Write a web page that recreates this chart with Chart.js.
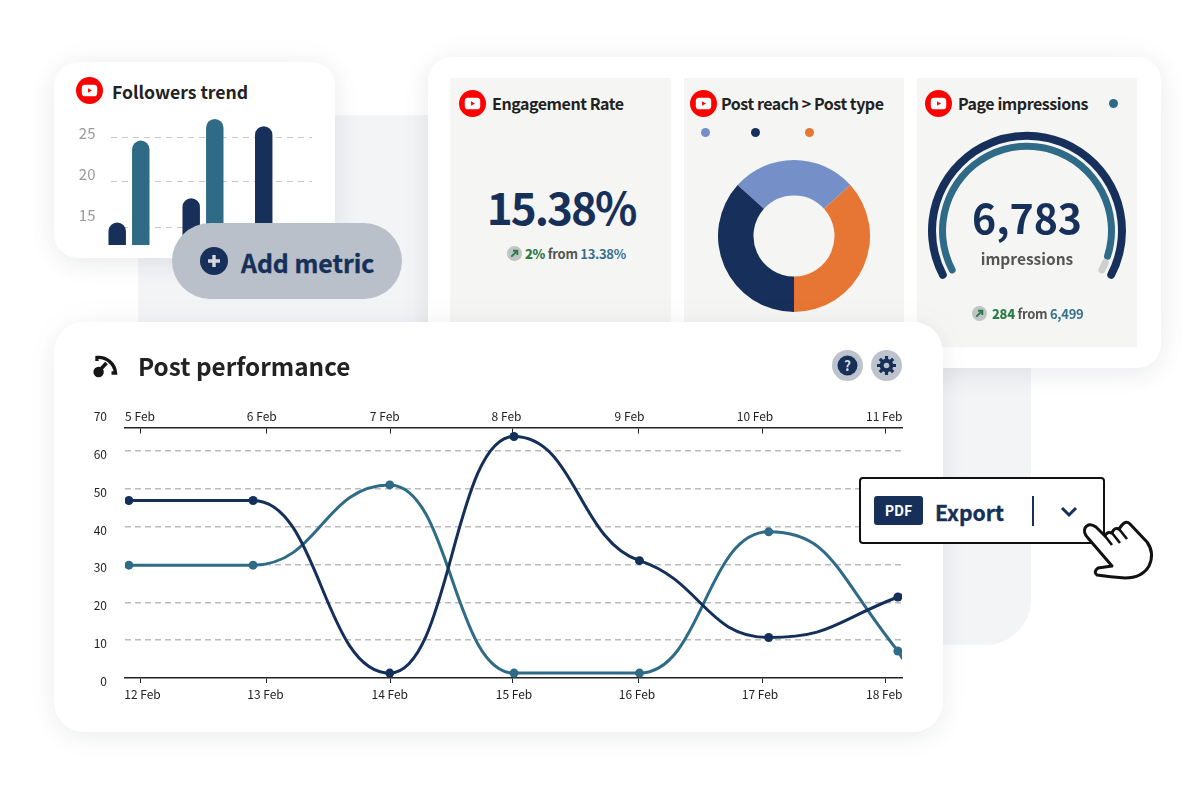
<!DOCTYPE html>
<html>
<head>
<meta charset="utf-8">
<title>Post performance</title>
<script src="https://cdn.jsdelivr.net/npm/chart.js@4"></script>
<style>
  html, body { margin: 0; background: #fff; }
  #page { position: relative; width: 1201px; height: 801px; overflow: hidden; font-family: "Noto Sans CJK SC", "Noto Sans", sans-serif; color: #222; }
  #page > *, .card > * { position: absolute; }
  canvas { display: block; }
  .card { background: #fff; box-shadow: 0 6px 26px rgba(30, 40, 70, .07), 0 0 40px rgba(30, 40, 70, .03); }
  .tile { background: #f5f5f3; }
  .t { white-space: nowrap; line-height: 1; }
  .title { font-size: 16px; letter-spacing: -.45px; font-weight: 700; color: #222; }
  .center { text-align: center; transform: translateX(-50%); }
  .navy { color: #16305a; }
  .heavy { -webkit-text-stroke: .35px currentColor; }
  .dot { width: 9px; height: 9px; border-radius: 50%; }
  .delta { font-size: 13px; letter-spacing: -.3px; font-weight: 700; color: #555; }
  .delta b { color: #2e7a49; }
  .delta i { color: #36708e; font-style: normal; }
  .round { width: 31px; height: 31px; border-radius: 50%; background: #bcc3cd; }
</style>
</head>
<body>
<svg width="0" height="0" style="position:absolute">
  <symbol id="yt" viewBox="0 0 28 28">
    <circle cx="14" cy="14" r="14" fill="#fe0000"/>
    <rect x="6" y="8" width="16" height="12" rx="3.5" fill="#fff"/>
    <path d="M12.5 11.7 L16.5 14 L12.5 16.3 Z" fill="#fe0000"/>
  </symbol>
  <symbol id="up" viewBox="0 0 16 16">
    <circle cx="8" cy="8" r="8" fill="#bfc4c4"/>
    <path d="M4.6 11.4 L10.6 5.4 M6.4 5 H11 V9.6" fill="none" stroke="#2e7a49" stroke-width="2"/>
  </symbol>
</svg>
<div id="page">
  <!-- grey panel behind the cards -->
  <div style="left:138px;top:115px;width:893px;height:530px;background:#f3f4f6;border-bottom-right-radius:46px"></div>

  <!-- right card with the three tiles -->
  <div class="card" style="left:428px;top:57px;width:733px;height:311px;border-radius:24px">
    <div class="tile" style="left:22px;top:21px;width:221px;height:260px"></div>
    <div class="tile" style="left:256px;top:21px;width:220px;height:260px"></div>
    <div class="tile" style="left:489px;top:21px;width:220px;height:269px"></div>
  </div>
  <svg style="left:459px;top:90px" width="27" height="27"><use href="#yt"/></svg>
  <div class="t title" style="left:492px;top:95px">Engagement Rate</div>
  <div class="t center navy" style="left:561px;top:184px;font-size:44px;letter-spacing:-2px;font-weight:700">15.38%</div>
  <svg style="left:507px;top:246px" width="15" height="15"><use href="#up"/></svg>
  <div class="t delta" style="left:525px;top:247px"><b>2%</b> from <i>13.38%</i></div>

  <svg style="left:690px;top:90px" width="27" height="27"><use href="#yt"/></svg>
  <div class="t title" style="left:721px;top:95px">Post reach &gt; Post type</div>
  <div class="dot" style="left:701px;top:128px;background:#7590c9"></div>
  <div class="dot" style="left:751px;top:128px;background:#172f5b"></div>
  <div class="dot" style="left:805px;top:128px;background:#e77534"></div>
  <canvas id="reachChart" width="160" height="160" style="left:714px;top:156px"></canvas>

  <svg style="left:925px;top:90px" width="27" height="27"><use href="#yt"/></svg>
  <div class="t title" style="left:958px;top:95px">Page impressions</div>
  <div class="dot" style="left:1109px;top:99px;background:#2f6b87"></div>
  <canvas id="impressionChart" width="204" height="156" style="left:925px;top:128px"></canvas>
  <div class="t center navy" style="left:1027px;top:196px;font-size:41px;font-weight:700">6,783</div>
  <div class="t center" style="left:1027px;top:251px;font-size:15.5px;font-weight:700;color:#555">impressions</div>
  <svg style="left:972px;top:306px" width="15" height="15"><use href="#up"/></svg>
  <div class="t delta" style="left:992px;top:307px"><b>284</b> from <i>6,499</i></div>

  <!-- followers card -->
  <div class="card" style="left:54px;top:62px;width:281px;height:196px;border-radius:24px"></div>
  <svg style="left:76px;top:77px" width="27" height="27"><use href="#yt"/></svg>
  <div class="t title" style="left:112px;top:83px;font-size:17.6px;letter-spacing:0">Followers trend</div>
  <canvas id="followersChart" width="255" height="140" style="left:70px;top:108px"></canvas>

  <!-- add metric pill -->
  <div style="left:172px;top:223px;width:230px;height:76px;border-radius:38px;background:#bac0c9"></div>
  <svg style="left:200px;top:247px" width="28" height="28" viewBox="0 0 28 28">
    <circle cx="14" cy="14" r="14" fill="#16305a"/>
    <path d="M14 8 V20 M8 14 H20" stroke="#d5d9df" stroke-width="3.4"/>
  </svg>
  <div class="t navy heavy" style="left:241px;top:250px;font-size:24.8px;font-weight:700">Add metric</div>

  <!-- post performance card -->
  <div class="card" style="left:54px;top:322px;width:889px;height:410px;border-radius:30px"></div>
  <svg style="left:93px;top:353px" width="26" height="26" viewBox="0 0 26 26" fill="none" stroke="#161616">
    <path d="M4 8 V4.5 A17 17 0 0 1 22.5 20 H18.5" stroke-width="3.4"/>
    <path d="M5 19 L13.5 10" stroke-width="3.6"/>
    <circle cx="5.6" cy="19" r="5.2" fill="#161616" stroke="none"/>
  </svg>
  <div class="t" style="left:138px;top:354px;font-size:24.3px;font-weight:700">Post performance</div>

  <div class="round" style="left:832px;top:350px"></div>
  <svg style="left:837px;top:355px" width="21" height="21" viewBox="0 0 21 21">
    <circle cx="10.5" cy="10.5" r="10" fill="#16305a"/>
    <text x="10.5" y="15.5" font-size="14" font-weight="700" fill="#d5d9df" text-anchor="middle">?</text>
  </svg>
  <div class="round" style="left:871px;top:350px"></div>
  <svg style="left:876px;top:355px" width="21" height="21" viewBox="0 0 21 21">
    <circle cx="10.5" cy="10.5" r="4.8" fill="none" stroke="#16305a" stroke-width="4"/>
    <path d="M10.5 1 V20 M1 10.5 H20 M3.8 3.8 L17.2 17.2 M17.2 3.8 L3.8 17.2" stroke="#16305a" stroke-width="3.2" stroke-dasharray="4 11 4"/>
  </svg>

  <canvas id="performanceChart" width="820" height="300" style="left:88px;top:402px"></canvas>

  <!-- export box and pointer -->
  <div style="left:859px;top:477px;width:242px;height:63px;border:2px solid #111;border-radius:4px;background:#fff"></div>
  <div class="t" style="left:874px;top:496px;width:49px;height:29px;border-radius:3px;background:#16305a;color:#fff;font-size:14px;font-weight:700;line-height:29px;text-align:center">PDF</div>
  <div class="t navy heavy" style="left:935px;top:501px;font-size:21.2px;font-weight:700">Export</div>
  <div style="left:1032px;top:496px;width:2px;height:30px;background:#16305a"></div>
  <svg style="left:1060px;top:506px" width="18" height="12"><path d="M2 2 L9 9 L16 2" fill="none" stroke="#16305a" stroke-width="3"/></svg>
  <svg style="left:0;top:0" width="1201" height="801" fill="none">
    <path d="M1112 566 L1098 568 Q1093 572 1097 575 Q1110 577 1125 578 Q1142 578 1149 566 Q1155 553 1147 542 L1130 524 Q1126 520 1122 525 L1119 529 Q1114 527 1112 533 Q1107 531 1105 536 L1096 527 Q1089 522 1085 528 Q1083 533 1088 538 Z" fill="#fff" stroke="#111" stroke-width="3" stroke-linejoin="round"/>
    <path d="M1105 536 L1112 545 M1112 533 L1120 543 M1119 529 L1127 539" stroke="#111" stroke-width="2.6"/>
  </svg>
</div>

<script>
// followers card
const followerGroups = [0, 1, 1.98];
const followersNavy = [15.5, 18.2, 26.2];
const followersTeal = [24.6, 27, null];
const followerTicks = [15, 20, 25];

// reach donut, clockwise from the upper left boundary
const reachValues = [26.6, 36.7, 36.7];
const reachColors = ['#7590c9', '#e77534', '#172f5b'];

// impressions gauge
const impressionsNow = 6783;
const impressionsBefore = 6499;
const impressionsGain = 284;

// post performance lines, days counted from 5 Feb / 12 Feb
const weekOneLabels = ['5 Feb', '6 Feb', '7 Feb', '8 Feb', '9 Feb', '10 Feb', '11 Feb'];
const weekTwoLabels = ['12 Feb', '13 Feb', '14 Feb', '15 Feb', '16 Feb', '17 Feb', '18 Feb'];
const tickDays = [0, 1.02, 2.02, 3, 4.01, 5.01, 6];
const weekOneLabelDays = [0, 0.98, 1.97, 2.95, 3.94, 4.95, 5.99];
const weekTwoLabelDays = [0.02, 1.01, 2.01, 3.01, 4, 4.99, 5.99];
const pointDays = [-0.13, -0.09, 0.91, 2.01, 3.01, 4.02, 5.06, 6.1, 6.14];
const navyValues = [46.9, 46.9, 46.9, 1.3, 63.8, 31, 10.7, 21.4, 22];
const tealValues = [29.8, 29.8, 29.8, 51, 1.3, 1.3, 38.6, 7.1, 5];
const valueTicks = [0, 10, 20, 30, 40, 50, 60, 70];

const NAVY = '#14305a';
const TEAL = '#2f6b87';
const FONT = '"Noto Sans CJK SC", "Noto Sans", sans-serif';

Chart.defaults.font.family = FONT;
Chart.defaults.animation = false;
Chart.defaults.responsive = false;
Chart.defaults.plugins.legend.display = false;
Chart.defaults.plugins.tooltip.enabled = false;

function points(xs, ys) {
  return xs.map((x, i) => ({ x: x, y: ys[i] }));
}

function fixedTicks(values) {
  return scale => { scale.ticks = values.map(v => ({ value: v })); };
}

// tick padding would otherwise eat into the chart area
function fitTo(size) {
  return scale => {
    if (scale.isHorizontal()) {
      scale.height = size;
    } else {
      scale.width = size;
    }
    scale.paddingTop = scale.paddingBottom = scale.paddingLeft = scale.paddingRight = 0;
  };
}

// monotone curves, with longer bezier handles so the turns stay flat for longer
const longHandles = {
  id: 'longHandles',
  beforeDatasetsDraw(chart) {
    chart.getSortedVisibleDatasetMetas().forEach(meta => {
      meta.dataset.updateControlPoints(chart.chartArea, 'x');
      const lastReal = meta.data.length - 2;
      meta.data.forEach((p, i) => {
        // shallower tangents through the middle points, full slope into the last one
        const dy = i < lastReal ? 0.6 : 1.45;
        p.cp1x = p.x + (p.cp1x - p.x) * 1.45;
        p.cp1y = p.y + (p.cp1y - p.y) * dy;
        p.cp2x = p.x + (p.cp2x - p.x) * 1.45;
        p.cp2y = p.y + (p.cp2y - p.y) * dy;
      });
    });
  }
};

new Chart(document.getElementById('followersChart'), {
  type: 'bar',
  data: {
    datasets: [
      { data: points(followerGroups, followersNavy), backgroundColor: '#16305a' },
      { data: points(followerGroups, followersTeal), backgroundColor: TEAL }
    ]
  },
  options: {
    layout: { padding: { top: 6.5, right: 13, bottom: 3 } },
    categoryPercentage: 0.65,
    barPercentage: 0.74,
    base: 13,
    borderRadius: { topLeft: 9, topRight: 9, bottomLeft: 0, bottomRight: 0 },
    datasets: { bar: { clip: false } },
    scales: {
      x: { type: 'linear', offset: false, display: false, min: -0.243, max: 2.473 },
      y: {
        min: 13,
        max: 27.5,
        afterBuildTicks: fixedTicks(followerTicks),
        afterFit: fitTo(0),
        grid: { color: '#c9c9c9', lineWidth: 1, drawTicks: false },
        border: { display: false, dash: [6, 5] },
        ticks: { display: false }
      },
      // labels sit on a tighter rhythm than the gridlines
      yLabels: {
        position: 'left',
        min: 11.34,
        max: 27.26,
        afterBuildTicks: fixedTicks(followerTicks),
        afterFit: fitTo(41),
        border: { display: false },
        grid: { display: false, drawTicks: false },
        ticks: { color: '#9a9a9a', font: { size: 15 }, padding: 15.5 }
      }
    }
  }
});

new Chart(document.getElementById('reachChart'), {
  type: 'doughnut',
  data: {
    datasets: [{ data: reachValues, backgroundColor: reachColors, borderWidth: 0 }]
  },
  options: {
    radius: 76,
    cutout: '53.3%',
    rotation: -47.9
  }
});

new Chart(document.getElementById('impressionChart'), {
  type: 'doughnut',
  data: {
    datasets: [
      {
        data: [impressionsNow],
        weight: 8,
        backgroundColor: '#172f5b',
        borderRadius: 4,
        borderWidth: 0
      },
      { data: [1], weight: 3, backgroundColor: 'transparent', borderWidth: 0 },
      {
        data: [impressionsBefore, impressionsGain],
        weight: 7,
        backgroundColor: [TEAL, '#cfcfcf'],
        borderRadius: 3.5,
        borderWidth: 0
      }
    ]
  },
  options: {
    radius: 99,
    cutout: '81.8%',
    rotation: -120,
    circumference: 240
  }
});

const weekAxisGrid = { drawOnChartArea: false, tickLength: 5, tickColor: '#222', tickWidth: 1 };

function weekLabelAxis(crossing, days, labels, padding) {
  return {
    type: 'linear',
    position: { y: crossing },
    min: -0.121,
    max: 6.133,
    afterBuildTicks: fixedTicks(days),
    afterFit: fitTo(0),
    border: { display: false },
    grid: { display: false, drawTicks: false },
    ticks: {
      autoSkip: false,
      maxRotation: 0,
      color: '#222',
      font: { size: 12 },
      padding: padding,
      callback: (v, i) => labels[i]
    }
  };
}

new Chart(document.getElementById('performanceChart'), {
  type: 'line',
  data: {
    datasets: [
      { data: points(pointDays, navyValues), borderColor: NAVY, backgroundColor: NAVY },
      { data: points(pointDays, tealValues), borderColor: TEAL, backgroundColor: TEAL }
    ]
  },
  plugins: [longHandles],
  options: {
    layout: { padding: { top: 11, right: 6 } },
    elements: {
      line: { borderWidth: 3, cubicInterpolationMode: 'monotone' },
      point: {
        radius: ctx => (ctx.dataIndex === 0 || ctx.dataIndex === pointDays.length - 1 ? 0 : 4.5),
        borderWidth: 0
      }
    },
    scales: {
      x: {
        type: 'linear',
        min: -0.121,
        max: 6.133,
        afterBuildTicks: fixedTicks(tickDays),
        afterFit: fitTo(24),
        border: { color: '#222', width: 1.5 },
        grid: weekAxisGrid,
        ticks: { autoSkip: false, maxRotation: 0, callback: () => '' }
      },
      xLabels: weekLabelAxis(0, weekTwoLabelDays, weekTwoLabels, 9),
      // first week axis crosses the value scale below the 70 label
      xTop: {
        type: 'linear',
        position: { y: 66 },
        min: -0.121,
        max: 6.133,
        afterBuildTicks: fixedTicks(tickDays),
        afterFit: fitTo(0),
        border: { color: '#222', width: 1.5 },
        grid: weekAxisGrid,
        ticks: { autoSkip: false, maxRotation: 0, callback: () => '' }
      },
      xTopLabels: weekLabelAxis(66, weekOneLabelDays, weekOneLabels, -19),
      y: {
        min: 0,
        max: 70,
        afterBuildTicks: fixedTicks(valueTicks),
        afterFit: fitTo(37),
        border: { display: false, dash: [6, 4] },
        grid: {
          drawTicks: false,
          lineWidth: 1.5,
          color: ctx => (ctx.tick && (ctx.tick.value === 70 || ctx.tick.value === 0) ? 'transparent' : '#bbbbbb')
        },
        ticks: { color: '#222', font: { size: 12 }, padding: 18, labelOffset: 3.5 }
      }
    }
  }
});
</script>
</body>
</html>
